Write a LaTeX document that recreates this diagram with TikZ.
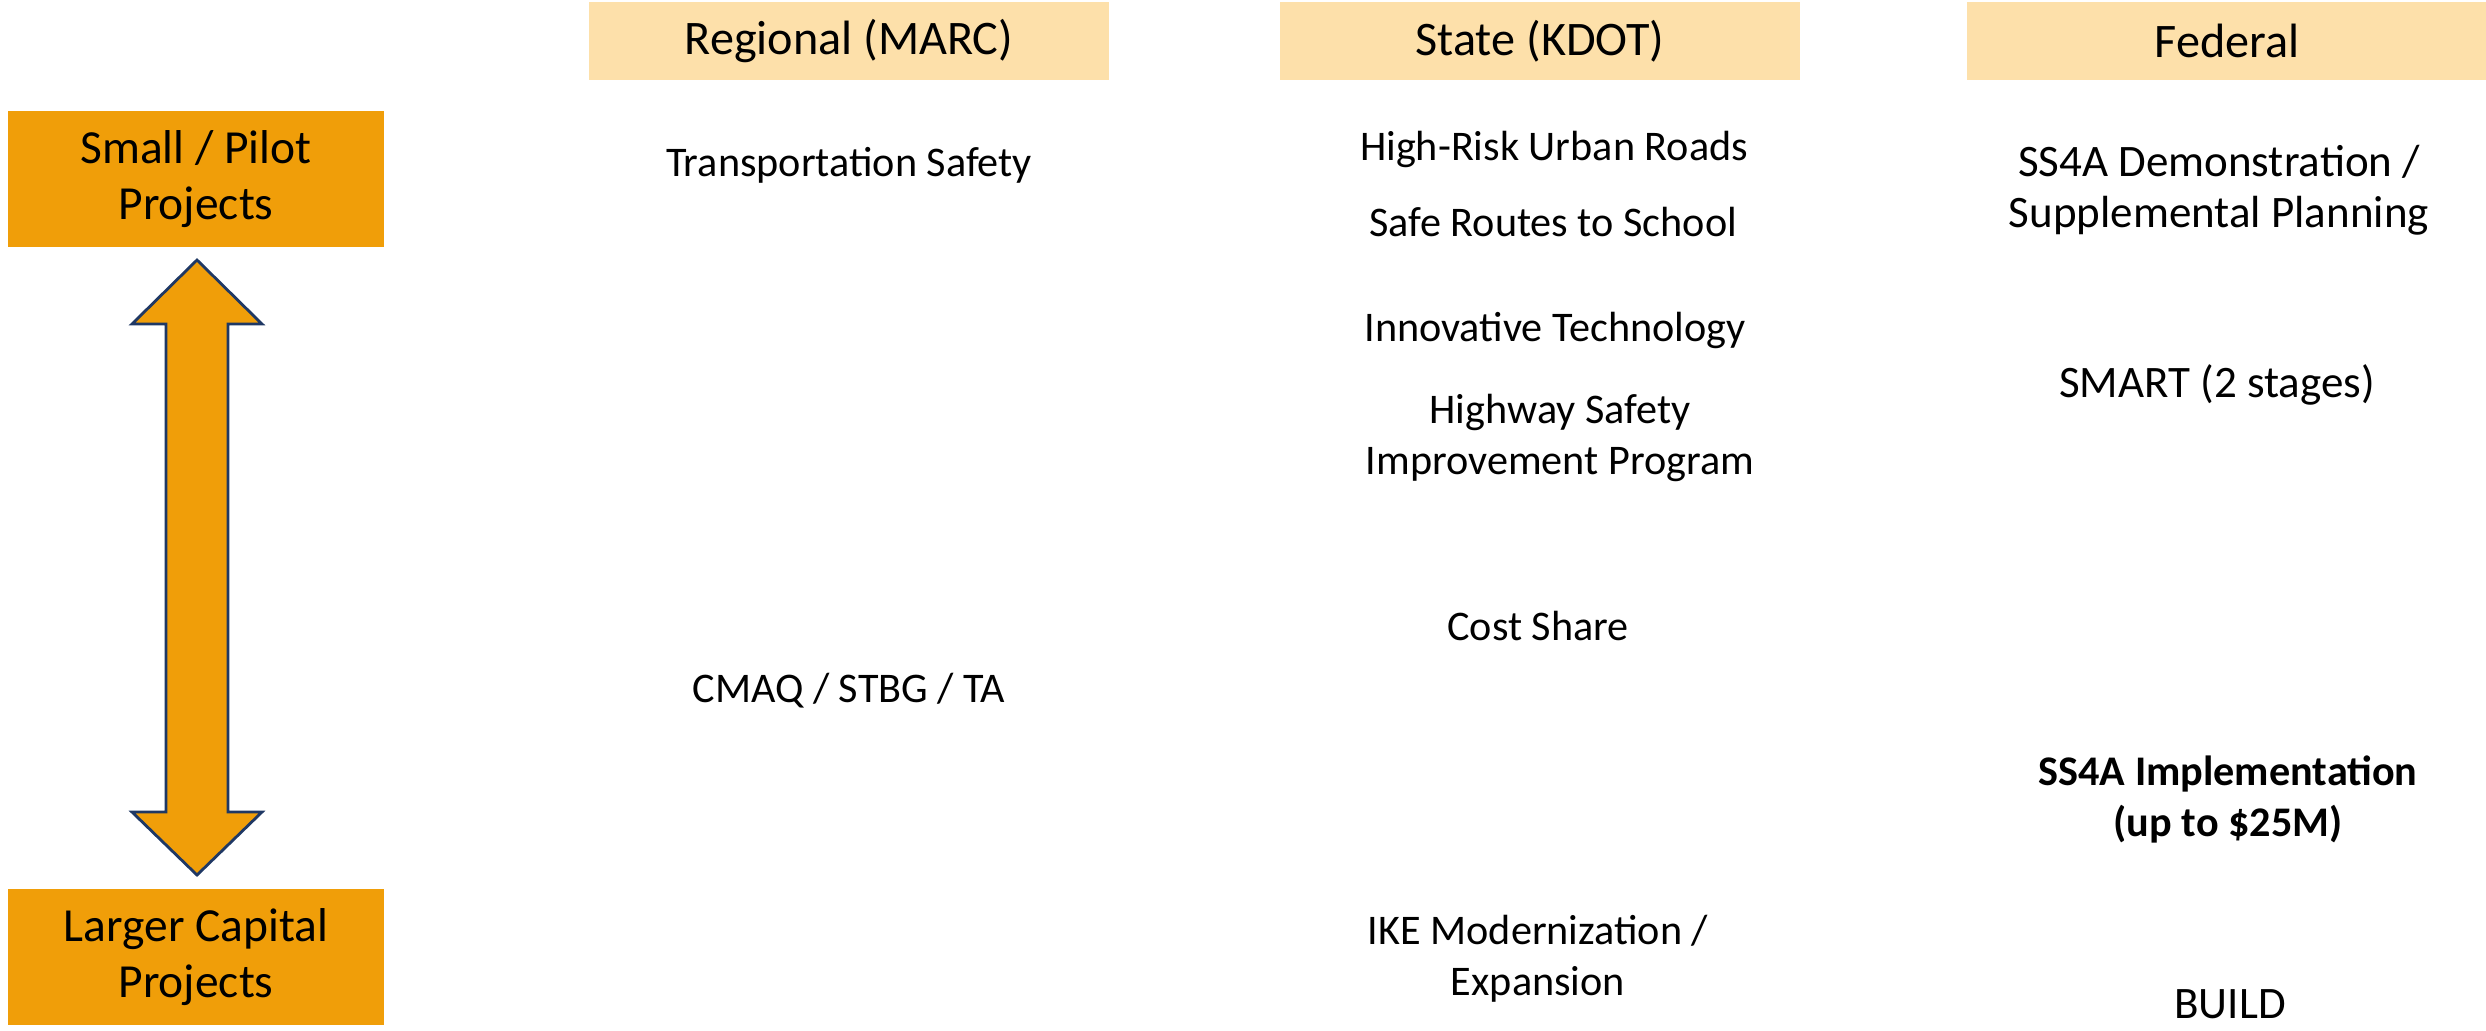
\documentclass[tikz,border=0pt]{standalone}
\usepackage{fontspec}
\setmainfont{Carlito}
\usepackage{xcolor}
\usepackage{tikz}
\definecolor{fundorange}{RGB}{240, 158, 9}
\definecolor{fundpeach}{RGB}{253, 224, 170}
\definecolor{fundnavy}{RGB}{31, 56, 100}
\tikzset{
  header/.style={fill=fundpeach, minimum width=5.2cm, minimum height=0.77cm, inner sep=0pt, font=\fontsize{13.7}{16}\selectfont},
  scalebox/.style={fill=fundorange, minimum width=3.76cm, minimum height=1.36cm, inner sep=0pt, align=center, font=\fontsize{13.5}{15.7}\selectfont},
  program/.style={align=center, inner sep=0pt, font=\fontsize{12}{14.5}\selectfont},
  fedprogram/.style={program, font=\fontsize{12.8}{14.5}\selectfont}
}

\begin{document}
\begin{tikzpicture}[x=0.01cm, y=-0.01cm]
\useasboundingbox (0,0) rectangle (2486,1030);
\clip (0,0) rectangle (2486,1030);
\foreach \x/\name/\id in {849/Regional (MARC)/regional, 1540/State (KDOT)/state, 2227/Federal/federal} {
    \node[header] (\id) at (\x,41) {\name};
}
\node[scalebox] (small) at (196,179) {Small / Pilot\\Projects};
\node[scalebox] (large) at (196,957) {Larger Capital\\Projects};
\draw[fundnavy, fill=fundorange, line width=0.8pt, line join=miter]
  (197,260) -- (262,324) -- (228,324) -- (228,812) -- (262,812) -- (197,875)
  -- (132,812) -- (166,812) -- (166,324) -- (132,324) -- cycle;
% regional
\node[program] (safety) at (849,165) {Transportation Safety};
\node[program] (cmaq) at (849,691) {CMAQ / STBG / TA};
% state
\node[program] (hrrr) at (1554,149) {High-Risk Urban Roads};
\node[program] (srts) at (1553,222) {Safe Routes to School};
\node[program] (itech) at (1555,330) {Innovative Technology};
\node[program] (hsip) at (1560,438) {Highway Safety\\Improvement Program};
\node[program] (cshare) at (1538,626) {Cost Share};
\node[program] (ike) at (1538,959) {IKE Modernization /\\Expansion};
% federal
\node[fedprogram] (ssdemo) at (2219,190) {SS4A Demonstration /\\Supplemental Planning};
\node[fedprogram] (smart) at (2217,385) {SMART (2 stages)};
\node[program, font=\fontsize{12}{14.5}\selectfont\bfseries] (ssimpl) at (2228,799) {SS4A Implementation\\(up to \$25M)};
\node[fedprogram] (build) at (2230,1004) {BUILD};
\end{tikzpicture}
\end{document}
